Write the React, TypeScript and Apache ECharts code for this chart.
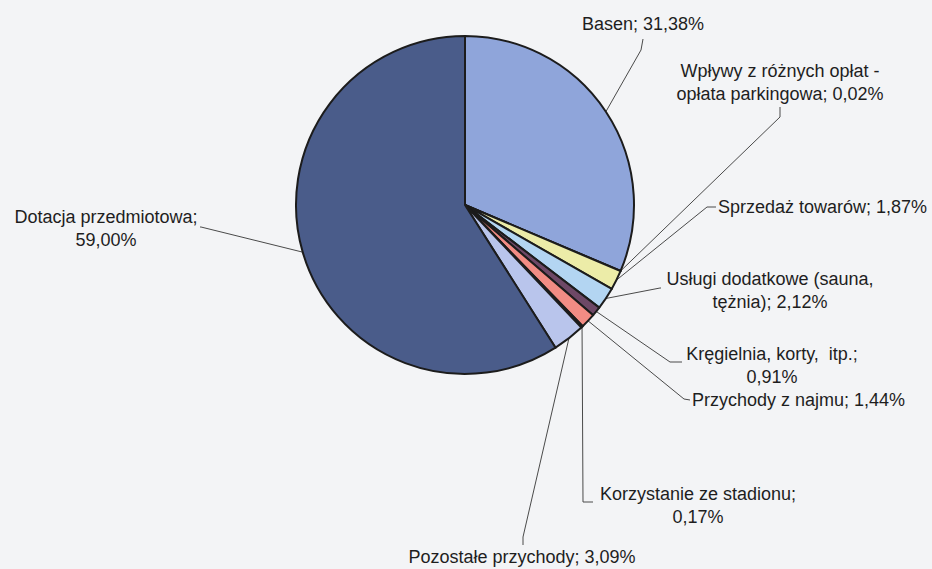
import React, { useEffect, useRef } from "react";
import * as echarts from "echarts";

// ---- data ----
const categories: string[] = [
  "Basen",
  "Wpływy z różnych opłat -\nopłata parkingowa",
  "Sprzedaż towarów",
  "Usługi dodatkowe (sauna,\ntężnia)",
  "Kręgielnia, korty,  itp.",
  "Przychody z najmu",
  "Korzystanie ze stadionu",
  "Pozostałe przychody",
  "Dotacja przedmiotowa",
];
const shares: number[] = [31.38, 0.02, 1.87, 2.12, 0.91, 1.44, 0.17, 3.09, 59.0];
const separators: string[] = ["; ", "; ", "; ", "; ", ";\n", "; ", ";\n", "; ", ";\n"];

// ---- styles ----
const sliceColors: string[] = [
  "#8FA5DA",
  "#9999CC",
  "#ECECA8",
  "#B3D5F2",
  "#6E4866",
  "#F28C84",
  "#CCCCEE",
  "#B9C5EC",
  "#4A5C8A",
];
// label anchor [x, y, align]
const labelPos: [number, number, string][] = [
  [643, 24, "center"],
  [780, 82, "center"],
  [718, 207, "left"],
  [770, 290, "center"],
  [772, 365, "center"],
  [692, 400, "left"],
  [698, 505, "center"],
  [522, 557, "center"],
  [106, 228, "center"],
];
// label line bends: [elbow, end]
const linePts: number[][][] = [
  [[641, 50], [643, 39]],
  [[780, 117], [780, 107]],
  [[707, 207], [716, 207]],
  [[660, 288], [661, 288]],
  [[670, 362], [682, 362]],
  [[684, 399], [690, 400]],
  [[583, 502], [593, 502]],
  [[523, 537], [523, 545]],
  [[201, 227], [200, 227]],
];

const fmt = (v: number) => v.toFixed(2).replace(".", ",");

export default function App() {
  const ref = useRef<HTMLDivElement>(null);
  useEffect(() => {
    document.body.style.margin = "0";
    const chart = echarts.init(ref.current!, undefined, { renderer: "svg" });
    chart.setOption({
      animation: false,
      backgroundColor: "#F3F4F6",
      textStyle: { fontFamily: "Liberation Sans, Arial, sans-serif" },
      series: [
        {
          type: "pie",
          center: [465, 205],
          radius: 169,
          startAngle: 90,
          clockwise: true,
          avoidLabelOverlap: false,
          data: categories.map((c, i) => ({
            name: c,
            value: shares[i],
            itemStyle: { color: sliceColors[i] },
          })),
          itemStyle: { borderColor: "#1c1c1c", borderWidth: 2 },
          label: {
            show: true,
            position: "outside",
            overflow: "none",
            color: "#1e1e1e",
            fontSize: 18,
            lineHeight: 23,
            fontFamily: "Liberation Sans, Arial, sans-serif",
            formatter: (p: any) =>
              categories[p.dataIndex] + separators[p.dataIndex] + fmt(shares[p.dataIndex]) + "%",
          },
          labelLine: {
            show: true,
            smooth: false,
            lineStyle: { color: "#4a4a4a", width: 1 },
          },
          labelLayout: (p: any) => {
            const i = p.dataIndex;
            const [x, y, align] = labelPos[i];
            const start = p.labelLinePoints ? p.labelLinePoints[0] : linePts[i][0];
            return {
              x,
              y,
              align,
              verticalAlign: "middle",
              labelLinePoints: [start, linePts[i][0], linePts[i][1]],
            };
          },
          emphasis: { disabled: true },
        },
      ],
    });
    return () => chart.dispose();
  }, []);
  return <div ref={ref} style={{ width: 932, height: 569 }} />;
}
